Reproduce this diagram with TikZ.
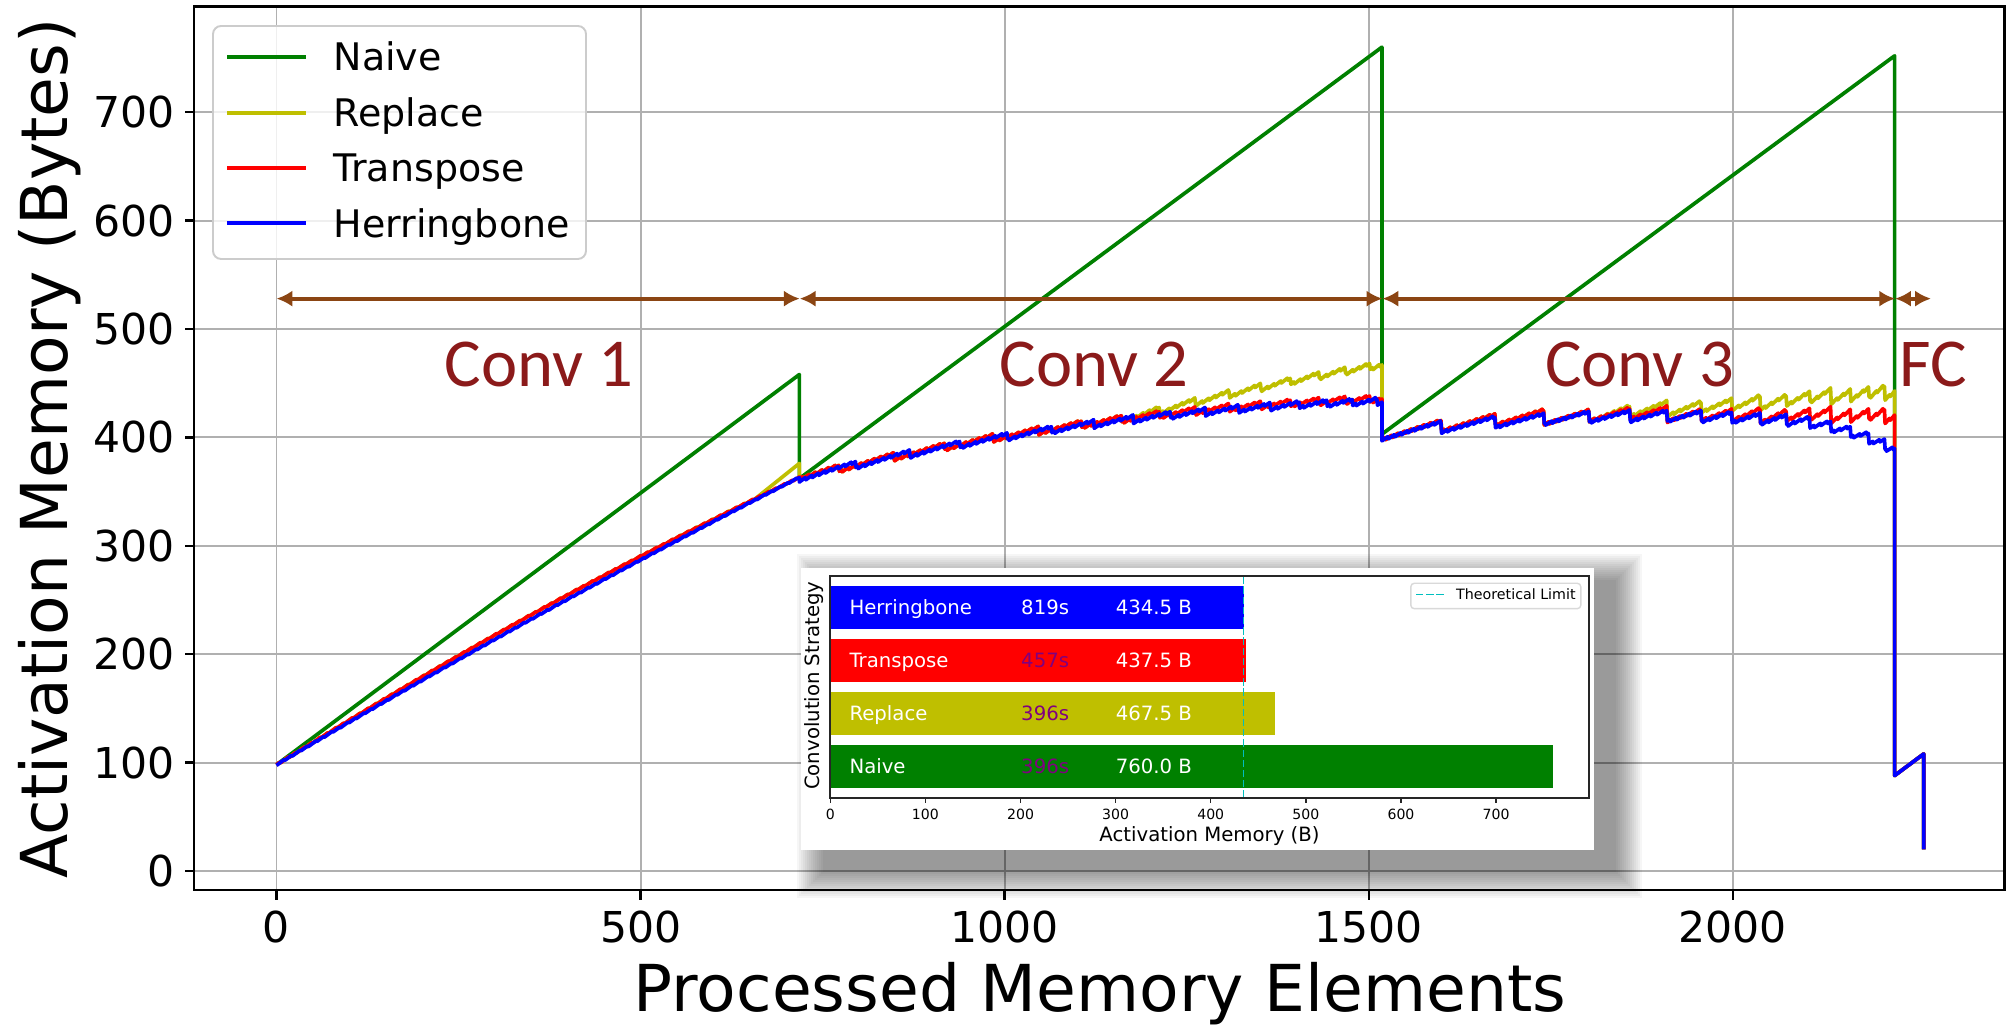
\documentclass[tikz,border=0pt]{standalone}
\usepackage{fontspec}
\setmainfont{DejaVu Sans}
\newfontfamily\convfont{Carlito}
\usetikzlibrary{arrows.meta}

\definecolor{naivecol}{rgb}{0,0.5,0}
\definecolor{replcol}{rgb}{0.75,0.75,0}
\definecolor{transcol}{rgb}{1,0,0}
\definecolor{herrcol}{rgb}{0,0,1}
\definecolor{limitcol}{rgb}{0,0.75,0.75}
\definecolor{spancol}{RGB}{139,69,19}
\definecolor{convcol}{RGB}{139,26,26}
\definecolor{gridcol}{RGB}{176,176,176}
\definecolor{timecol}{RGB}{128,0,128}

\tikzset{
  gridline/.style={draw=gridcol,line width=0.55pt},
  spine/.style={draw=black,line width=0.7pt},
  curve/.style={line width=1.05pt,line join=round},
  span/.style={draw=spancol,line width=1.1pt,{Latex[length=4.5pt,width=4.6pt]}-{Latex[length=4.5pt,width=4.6pt]}},
  convlabel/.style={text=convcol,font=\convfont\fontsize{19.5}{20}\selectfont,inner sep=0pt,anchor=base},
  ticklabel/.style={font=\fontsize{12.1}{13}\selectfont,inner sep=0pt},
  axislabel/.style={font=\fontsize{18.4}{20}\selectfont,inner sep=0pt},
  legendlabel/.style={font=\fontsize{10.8}{12}\selectfont,inner sep=0pt,anchor=base west},
  bartext/.style={font=\fontsize{5.6}{6.5}\selectfont,inner sep=0pt,anchor=base west},
  insettick/.style={font=\fontsize{4}{5}\selectfont,inner sep=0pt,anchor=north},
  insetlabel/.style={font=\fontsize{5.6}{6.5}\selectfont,inner sep=0pt},
  limitline/.style={draw=limitcol,line width=0.45pt,dash pattern=on 2.1pt off 0.8pt},
  declare function={
    bone(\t)=98+0.398*\t-0.4*(\t/100)^2 ;
    btwo(\t)=362+0.15745*\t-0.868*(\t/100)^2 ;
    bthree(\t)=400+0.09*\t-1.2*(\t/100)^2 ;
    dropthree(\t)=8.6*(max(0,\t/100-5.6))^2 ;
    phtwo(\t)=-16.67*ln(1-0.00075*\t) ;
    phthree(\t)=-10.87*ln(1-0.001082*\t) ;
    zig(\t)=2.4*frac(\t/9)-1.2 ;
    rone(\t)=bone(\t)+4*sin(\t/4)+1.2*frac(\t/11+0.5)-0.6 ;
    rtwo(\t)=btwo(\t)+0.003*\t+6*frac(phtwo(\t)+0.3)-2+zig(\t+4) ;
    rthree(\t)=bthree(\t)+0.055*max(0,\t-500)+10*frac(phthree(\t))-2+3.5*frac(phthree(\t)/3)+zig(\t+4) ;
  }
}

\begin{document}
\begin{tikzpicture}[x=0.01cm,y=0.01cm]
\useasboundingbox (0,0) rectangle (2008,1025) ;

\begin{scope}[shift={(276.5,154)},x=0.007286cm,y=0.010833cm]
\foreach \gx in {0,500,...,2000} \draw[gridline] (\gx,-17.5) -- (\gx,797.5) ;
\foreach \gy in {0,100,...,700} \draw[gridline] (-113,\gy) -- (2373,\gy) ;

\draw[curve,draw=naivecol] (0,98) -- (718,458) -- (718,362) -- (1518,760) -- (1518,403) -- (2222,752) -- (2222,88) -- (2262,108) -- (2262,20) ;
\draw[curve,draw=replcol] plot[domain=0:655,samples=330] (\x,{rone(\x)}) -- (718,376) -- (718,362)
  -- plot[domain=0:800,samples=801] ({718+\x},{rtwo(\x)+0.09*max(0,\x-450)})
  -- plot[domain=0:704,samples=705] ({1518+\x},{rthree(\x)+0.055*max(0,\x-300)})
  -- (2222,88) -- (2262,108) -- (2262,20) ;
\draw[curve,draw=transcol] plot[domain=0:718,samples=360] (\x,{rone(\x)})
  -- plot[domain=0:800,samples=801] ({718+\x},{rtwo(\x)})
  -- plot[domain=0:704,samples=705] ({1518+\x},{rthree(\x)})
  -- (2222,88) -- (2262,108) -- (2262,20) ;
\draw[curve,draw=herrcol] plot[domain=0:718,samples=360] (\x,{bone(\x)+1.2*frac(\x/11)-0.6})
  -- plot[domain=0:800,samples=801] ({718+\x},{btwo(\x)+6*frac(phtwo(\x))-2+zig(\x)})
  -- plot[domain=0:704,samples=705] ({1518+\x},{bthree(\x)-dropthree(\x)+10*frac(phthree(\x))-2+zig(\x)})
  -- (2222,88) -- (2262,108) -- (2262,20) ;

\coordinate (s0) at (0,528) ;
\coordinate (s1) at (718.5,528) ;
\coordinate (s2) at (1518.7,528) ;
\coordinate (s3) at (2222.7,528) ;
\coordinate (s4) at (2272,528) ;
\draw[span] (s0) -- (s1) ;
\draw[span] (s1) -- (s2) ;
\draw[span] (s2) -- (s3) ;
\draw[span] (s3) -- (s4) ;
\node[convlabel] (conv1) at (360.5,447) {Conv 1} ;
\node[convlabel] (conv2) at (1123,447) {Conv 2} ;
\node[convlabel] (conv3) at (1872,447) {Conv 3} ;
\node[convlabel] (fc) at (2275.5,447) {FC} ;

\draw[spine] (-113,-17.5) rectangle (2373,797.5) ;
\foreach \gx in {0,500,...,2000} {
  \draw[spine] (\gx,-17.5) -- ++(0,-9.2) ;
  \node[ticklabel,anchor=north] (xt\gx) at (\gx,-36) {\gx} ;
}
\foreach \gy in {0,100,...,700} {
  \draw[spine] (-113,\gy) -- ++(-12.4,0) ;
  \node[ticklabel,anchor=east] (yt\gy) at (-139.3,\gy) {\gy} ;
}
\end{scope}

\node[axislabel,anchor=base] (xlab) at (1100,13.3) {Processed Memory Elements} ;
\node[axislabel,rotate=90] (ylab) at (50,576.5) {Activation Memory (Bytes)} ;

\draw[draw=black!20,fill=white,fill opacity=0.8,rounded corners=2.3pt,line width=0.55pt] (213,766) rectangle (586,999) ;
\foreach \ly/\lc/\lt in {968/naivecol/Naive,912.3/replcol/Replace,857.3/transcol/Transpose,801.7/herrcol/Herringbone} {
  \draw[curve,draw=\lc] (227,\ly) -- (306,\ly) ;
  \node[legendlabel] (leg\lt) at (333,\ly-13.8) {\lt} ;
}

\foreach \k in {0,...,13} \fill[black,opacity=0.035] (823-\k*2,153-\k*2) rectangle (1616+\k*2,445+\k*2) ;
\fill[white] (801,175) rectangle (1594,457) ;

\begin{scope}[shift={(830.3,0)},x=0.009503cm]
\foreach \bc/\bv/\by in {herrcol/434.5/417.3,transcol/437.5/364.3,replcol/467.5/311.2,naivecol/760/258.3}
  \fill[\bc] (0,\by-21.65) rectangle (\bv,\by+21.65) ;
\foreach \bn/\bt/\bm/\tc/\by in {Herringbone/819s/434.5 B/white/417.3,Transpose/457s/437.5 B/timecol/364.3,Replace/396s/467.5 B/timecol/311.2,Naive/396s/760.0 B/timecol/258.3} {
  \node[bartext,text=white] (bar\bn) at (19.5,\by-7.2) {\bn} ;
  \node[bartext,text=\tc] (time\bn) at (200,\by-7.2) {\bt} ;
  \node[bartext,text=white] (mem\bn) at (299.5,\by-7.2) {\bm} ;
}
\draw[limitline] (434.5,227.3) -- (434.5,449.3) ;
\draw[draw=black!85,line width=0.6pt] (0,227.3) rectangle (798,449.3) ;
\foreach \tv in {0,100,...,700} {
  \draw[draw=black!85,line width=0.4pt] (\tv,227.3) -- ++(0,-5) ;
  \node[insettick] (it\tv) at (\tv,216.5) {\tv} ;
}
\end{scope}
\node[insetlabel] (ixlab) at (1209.5,189) {Activation Memory (B)} ;
\node[insetlabel,rotate=90] (iylab) at (814,339.2) {Convolution Strategy} ;
\draw[draw=black!15,fill=white,rounded corners=1pt,line width=0.4pt] (1410.8,416.3) rectangle (1580.8,441.7) ;
\draw[limitline] (1416,430.3) -- (1444.8,430.3) ;
\node[font=\fontsize{4.05}{5}\selectfont,inner sep=0pt,anchor=base west] (limlab) at (1455.5,425) {Theoretical Limit} ;
\end{tikzpicture}
\end{document}
